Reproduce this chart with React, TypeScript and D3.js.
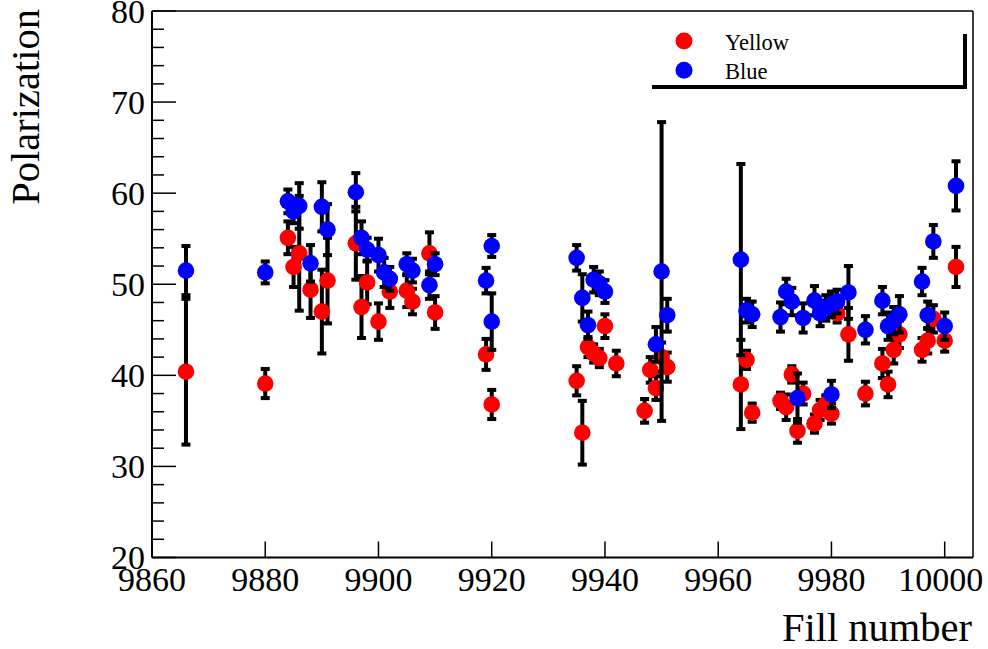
import React from "react";
import * as d3 from "d3";

const yellowFill = [9866, 9880, 9884, 9885, 9886, 9888, 9890, 9891, 9896, 9897, 9898, 9900, 9902, 9905, 9906, 9909, 9910, 9919, 9920, 9935, 9936, 9937, 9938, 9939, 9940, 9942, 9947, 9948, 9949, 9950, 9951, 9964, 9965, 9966, 9971, 9972, 9973, 9974, 9975, 9977, 9978, 9979, 9980, 9981, 9983, 9986, 9989, 9990, 9991, 9992, 9996, 9997, 9998, 10000, 10002];
const yellowPol = [40.4, 39.1, 55.1, 51.9, 53.4, 49.4, 47.0, 50.4, 54.5, 47.5, 50.2, 45.9, 49.2, 49.3, 48.1, 53.4, 46.9, 42.3, 36.8, 39.4, 33.7, 43.1, 42.4, 41.9, 45.4, 41.3, 36.1, 40.6, 38.6, 42.0, 40.9, 39.0, 41.7, 35.9, 37.2, 36.5, 40.1, 33.9, 38.0, 34.7, 36.2, 36.8, 35.8, 46.8, 44.5, 38.0, 41.3, 39.0, 42.8, 44.5, 42.8, 43.8, 46.2, 43.8, 51.9];
const yellowErr = [8.0, 1.6, 1.8, 2.2, 6.3, 3.1, 4.6, 4.7, 4.0, 3.4, 2.4, 2.0, 1.8, 1.8, 1.4, 2.3, 1.8, 1.7, 1.6, 1.6, 3.5, 1.1, 1.0, 1.0, 1.3, 1.4, 1.3, 1.4, 1.3, 1.6, 1.6, 4.9, 1.0, 1.0, 0.9, 1.4, 0.9, 1.3, 1.2, 1.0, 1.1, 1.0, 1.1, 1.0, 2.9, 1.3, 1.6, 1.4, 1.5, 1.5, 1.3, 1.4, 1.5, 1.2, 2.2];

const blueFill = [9866, 9880, 9884, 9885, 9886, 9888, 9890, 9891, 9896, 9897, 9898, 9900, 9901, 9902, 9905, 9906, 9909, 9910, 9919, 9920, 9920, 9935, 9936, 9937, 9938, 9939, 9940, 9949, 9950, 9951, 9964, 9965, 9966, 9971, 9972, 9973, 9974, 9975, 9977, 9978, 9979, 9980, 9980, 9981, 9983, 9986, 9989, 9990, 9991, 9992, 9996, 9997, 9998, 10000, 10002];
const bluePol = [51.5, 51.3, 59.1, 58.0, 58.6, 52.3, 58.5, 56.0, 60.1, 55.1, 53.8, 53.2, 51.3, 50.6, 52.2, 51.5, 49.9, 52.2, 50.4, 54.2, 45.9, 52.9, 48.5, 45.5, 50.5, 50.1, 49.2, 43.4, 51.4, 46.6, 52.7, 47.1, 46.7, 46.4, 49.2, 48.1, 37.5, 46.3, 48.2, 46.8, 47.4, 47.8, 37.9, 48.1, 49.1, 45.0, 48.2, 45.4, 46.0, 46.7, 50.3, 46.6, 54.7, 45.4, 60.8];
const blueErr = [2.7, 1.2, 1.3, 1.3, 2.5, 2.0, 2.7, 2.8, 2.1, 1.8, 1.3, 1.8, 1.6, 1.3, 1.2, 1.3, 1.5, 1.2, 1.4, 1.2, 3.1, 1.4, 2.6, 1.5, 1.4, 1.3, 1.25, 1.9, 16.4, 1.8, 10.5, 1.3, 1.4, 1.6, 1.4, 1.5, 2.7, 1.6, 1.6, 1.4, 1.4, 1.4, 1.5, 1.3, 2.9, 1.5, 1.5, 1.5, 1.5, 2.0, 1.5, 1.5, 1.8, 1.5, 2.7];

const xTicks = [9860, 9880, 9900, 9920, 9940, 9960, 9980, 10000];
const yTicks = [20, 30, 40, 50, 60, 70, 80];
const seriesNames = ["Yellow", "Blue"];
const seriesColors = ["#ff0000", "#0000ff"];

const W = 988, H = 649;
const FONT = "'Liberation Serif', 'DejaVu Serif', serif";

export default function App() {
  const x = d3.scaleLinear().domain([9860, 10005]).range([152, 973]);
  const y = d3.scaleLinear().domain([20, 80]).range([557.5, 11]);
  const minorY = d3.range(20, 80.001, 2).filter((v) => !yTicks.includes(v));

  const series = [
    { fill: yellowFill, pol: yellowPol, err: yellowErr, color: seriesColors[0] },
    { fill: blueFill, pol: bluePol, err: blueErr, color: seriesColors[1] },
  ];
  const R = 8.3;

  return (
    <svg width={W} height={H} style={{ position: "absolute", left: 0, top: 0, background: "#fff" }}>
      <rect x={0} y={0} width={W} height={H} fill="#fff" />
      {/* frame */}
      <line x1={x(9860)} y1={y(80)} x2={x(10005)} y2={y(80)} stroke="#000" strokeWidth={1.5} />
      <line x1={x(10005)} y1={y(80)} x2={x(10005)} y2={y(20)} stroke="#000" strokeWidth={1.5} />
      {/* data */}
      {series.map((s, si) => (
        <g key={si}>
          {s.fill.map((f, i) => {
            const cx = x(f);
            const y0 = y(s.pol[i] - s.err[i]);
            const y1 = y(s.pol[i] + s.err[i]);
            return (
              <g key={"e" + i}>
                <line x1={cx} x2={cx} y1={y0} y2={y1} stroke="#000" strokeWidth={4} />
                <rect x={cx - 4.5} y={y1 - 2} width={9} height={4} fill="#000" />
                <rect x={cx - 4.5} y={y0 - 2} width={9} height={4} fill="#000" />
              </g>
            );
          })}
          {s.fill.map((f, i) => (
            <circle key={"m" + i} cx={x(f)} cy={y(s.pol[i])} r={R} fill={s.color} />
          ))}
        </g>
      ))}
      {/* axes */}
      <line x1={x(9860)} y1={y(20)} x2={x(10005)} y2={y(20)} stroke="#000" strokeWidth={2} />
      <line x1={x(9860)} y1={y(20)} x2={x(9860)} y2={y(80)} stroke="#000" strokeWidth={2} />
      {xTicks.map((t) => (
        <g key={"xt" + t}>
          <line x1={x(t)} x2={x(t)} y1={y(20)} y2={y(20) - 16} stroke="#000" strokeWidth={1.5} />
          <text x={t === 10000 ? x(t) - 4 : x(t)} y={591} textAnchor="middle" fontFamily={FONT} fontSize={34} fill="#000">
            {t}
          </text>
        </g>
      ))}
      {yTicks.map((t) => (
        <g key={"yt" + t}>
          <line x1={x(9860)} x2={x(9860) + 24} y1={y(t)} y2={y(t)} stroke="#000" strokeWidth={1.5} />
          <text x={145} y={y(t) + 11.5} textAnchor="end" fontFamily={FONT} fontSize={34} fill="#000">
            {t}
          </text>
        </g>
      ))}
      {minorY.map((t) => (
        <line key={"my" + t} x1={x(9860)} x2={x(9860) + 12} y1={y(t)} y2={y(t)} stroke="#000" strokeWidth={1.5} />
      ))}
      {/* axis titles */}
      <text x={972} y={641} textAnchor="end" fontFamily={FONT} fontSize={40.5} fill="#000">
        Fill number
      </text>
      <text transform={`translate(39, 9) rotate(-90)`} textAnchor="end" fontFamily={FONT} fontSize={40.5} fill="#000">
        Polarization
      </text>
      {/* legend */}
      <rect x={652} y={34} width={315} height={55} fill="#000" />
      <rect x={648} y={30} width={315} height={55} fill="#fff" />
      {seriesNames.map((n, i) => (
        <g key={n}>
          <circle cx={684} cy={41 + i * 29.3} r={8.5} fill={seriesColors[i]} />
          <text x={725} y={50 + i * 29} fontFamily={FONT} fontSize={22.5} fill="#000">
            {n}
          </text>
        </g>
      ))}
    </svg>
  );
}
